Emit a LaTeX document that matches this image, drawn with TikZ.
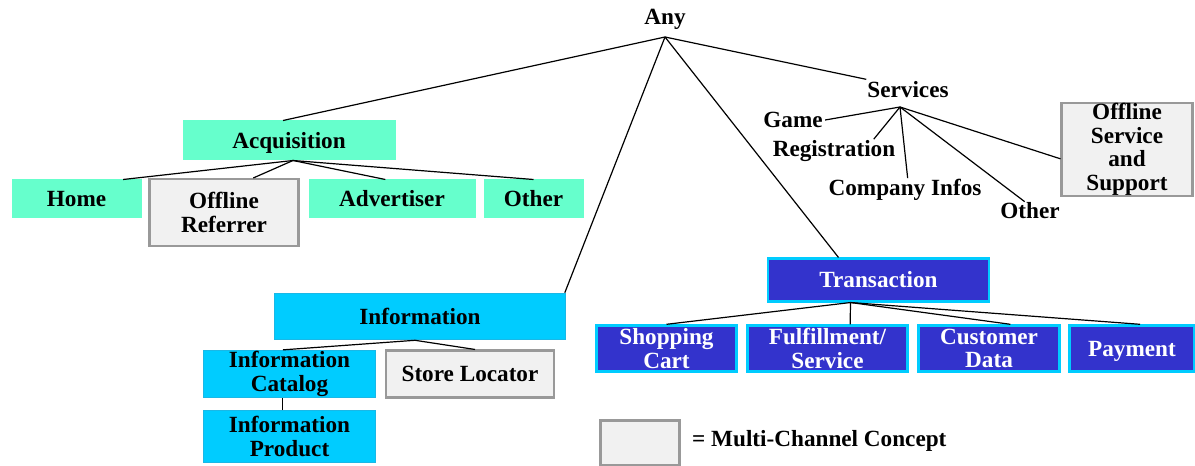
\documentclass[tikz,border=0pt]{standalone}
\usepackage{fontspec}
\setmainfont{Liberation Serif}

\definecolor{acqgreen}{HTML}{66FFCC}
\definecolor{infocyan}{HTML}{00CCFF}
\definecolor{infoedge}{HTML}{1AB8E6}
\definecolor{transblue}{HTML}{3333CC}
\definecolor{mcfill}{HTML}{F1F1F1}
\definecolor{mcedge}{HTML}{999999}

\tikzset{every picture/.style={line width=0.75pt}}
\tikzset{
  lbl/.style={inner sep=0.5pt, font=\fontsize{17.4}{17.6}\selectfont\bfseries, align=center},
  oneline/.style={text height=13pt, text depth=1.5pt},
  acqbox/.style={lbl, fill=acqgreen, draw=acqgreen, minimum height=28.5pt},
  infobox/.style={lbl, fill=infocyan, draw=infoedge, line width=1.2pt},
  transbox/.style={lbl, fill=transblue, draw=infocyan, line width=1.8pt, text=white},
  mcbox/.style={lbl, fill=mcfill, draw=mcedge, line width=1.8pt},
  link/.style={line width=0.9pt},
}

\begin{document}
\begin{tikzpicture}[x=0.75pt,y=0.75pt,yscale=-1,xscale=1]
	\useasboundingbox (0,0) rectangle (1195,466);

	% root
	\node [lbl] (any) at (665,19) {Any};
	\coordinate (anyj) at (665,37);

	% acquisition branch
	\node [acqbox, oneline, minimum width=159pt, minimum height=29.25pt] (acq) at (289,140.5) {Acquisition};
	\node [acqbox, oneline, minimum width=96.75pt] (home) at (76.5,199) {Home};
	\node [mcbox, minimum width=112pt, minimum height=50pt] (offref) at (224,212.5) {Offline\\Referrer};
	\node [acqbox, oneline, minimum width=124.5pt] (adv) at (392,199) {Advertiser};
	\node [acqbox, oneline, minimum width=74.25pt] (oth1) at (533.5,199) {Other};

	% services branch
	\node [lbl] (serv) at (908,90) {Services};
	\coordinate (servj) at (900,107);
	\node [lbl] (game) at (793,120) {Game};
	\node [lbl] (reg) at (834,151) {Registration};
	\node [lbl] (comp) at (905,190) {Company Infos};
	\node [lbl] (oth2) at (1030,211) {Other};
	\node [mcbox, minimum width=98pt, minimum height=70pt] (offsvc) at (1127,149.5) {Offline\\Service\\and\\Support};

	% information branch
	\node [infobox, oneline, minimum width=218pt, minimum height=34.5pt] (info) at (420,316.5) {Information};
	\node [infobox, minimum width=129pt, minimum height=35pt] (infcat) at (289.5,374) {Information\\Catalog};
	\node [mcbox, oneline, minimum width=126pt, minimum height=35pt] (store) at (470,374) {Store Locator};
	\node [infobox, minimum width=129pt, minimum height=39pt] (infprod) at (289.5,436.5) {Information\\Product};

	% transaction branch
	\node [transbox, oneline, minimum width=166pt, minimum height=32pt] (trans) at (878.5,280) {Transaction};
	\node [transbox, minimum width=105pt, minimum height=34.5pt] (shop) at (666.5,348.5) {Shopping\\Cart};
	\node [transbox, minimum width=120pt, minimum height=34.5pt] (fulfil) at (827.5,348.5) {Fulfillment/\\Service};
	\node [transbox, minimum width=105.75pt, minimum height=34.5pt] (cust) at (989,348.5) {Customer\\Data};
	\node [transbox, oneline, minimum width=94pt, minimum height=34.5pt] (pay) at (1132,348.5) {Payment};

	% legend
	\node [mcbox, minimum width=59pt, minimum height=34pt] (legbox) at (640,443) {};
	\node [lbl, anchor=west] (legtxt) at (691,441) {= Multi-Channel Concept};

	% links from the root
	\draw [link] (anyj) -- ([xshift=-4.5pt]acq.north);
	\draw [link] (anyj) -- ([yshift=-1pt]serv.north west);
	\draw [link] (anyj) -- ([xshift=-1pt]info.north east);
	\draw [link] (anyj) -- ([xshift=-30pt]trans.north);

	% acquisition links
	\coordinate (acqj) at ([xshift=3pt]acq.south);
	\draw [link] (acqj) -- ([xshift=35pt]home.north);
	\draw [link] (acqj) -- ([xshift=22pt]offref.north);
	\draw [link] (acqj) -- ([xshift=-5pt]adv.north);
	\draw [link] (acqj) -- (oth1.north);

	% services links
	\draw [link] (servj) -- ([xshift=1pt]game.east);
	\draw [link] (servj) -- ([xshift=-17pt]reg.north east);
	\draw [link] (servj) -- ([xshift=2pt]comp.north);
	\draw [link] (servj) -- ([xshift=-4pt]oth2.north);
	\draw [link] (servj) -- ([yshift=7pt]offsvc.west);

	% information links
	\coordinate (infoj) at ([xshift=-3.75pt]info.south);
	\draw [link] (infoj) -- ([xshift=-5pt]infcat.north);
	\draw [link] (infoj) -- ([xshift=3.75pt]store.north);
	\draw [link] ([xshift=-5pt]infcat.south) -- ([xshift=-5pt]infprod.north);

	% transaction links
	\coordinate (transj) at ([xshift=-21pt]trans.south);
	\draw [link] (transj) -- (shop.north);
	\draw [link] (transj) -- ([xshift=17pt]fulfil.north);
	\draw [link] (transj) -- ([xshift=16pt]cust.north);
	\draw [link] (transj) -- ([xshift=6pt]pay.north);

\end{tikzpicture}
\end{document}
